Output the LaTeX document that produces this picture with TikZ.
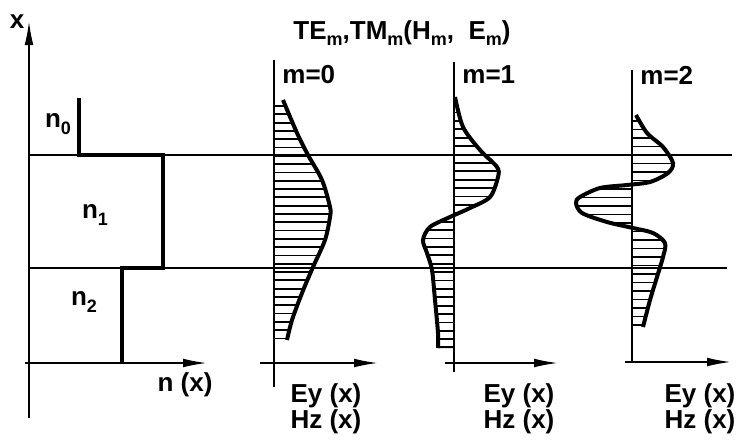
\documentclass[tikz,border=0pt]{standalone}
\usepackage{fontspec}
\setmainfont{Liberation Sans}
\usetikzlibrary{arrows.meta}
\tikzset{
  axisline/.style={line width=0.8pt},
  axisarrow/.style={line width=0.9pt, -{Latex[length=12pt,width=4.4pt]}},
  layerline/.style={line width=0.7pt},
  profile/.style={line width=1.9pt},
  modecurve/.style={line width=2pt},
  hatchline/.style={line width=0.9pt},
  lbl/.style={font=\bfseries\fontsize{13}{15}\selectfont, inner sep=0pt},
  % mode shapes, in pixel units of the figure
  modezero/.style={insert path={plot[smooth] coordinates {(283,100) (297,133) (308,155) (322,180) (330,207) (330,217) (325,240) (313,267) (302,293) (292,320) (287,340)}}},
  modeone/.style={insert path={plot[smooth] coordinates {(455,97) (463,127) (480,150) (497,167) (498,177) (490,197) (470,208) (450,217) (430,227) (423,240) (427,253) (432,270) (435,300) (438,333) (438,348)}}},
  modetwo/.style={insert path={plot[smooth] coordinates {(636,115) (647,133) (663,147) (673,163) (668,173) (650,182) (627,185) (600,188) (580,197) (576,203) (582,213) (607,222) (633,228) (653,233) (665,243) (663,257) (657,277) (650,300) (643,327)}}}
}
\newcommand{\lowsub}[1]{\raisebox{-0.45ex}{\fontsize{9}{10}\selectfont #1}}

\begin{document}
\begin{tikzpicture}[x=0.5pt, y=-0.5pt]
\useasboundingbox (0,0) rectangle (738,440);

% layer boundaries
\draw[layerline] (29,155) -- (732,155);
\draw[layerline] (29,268) -- (727,268);

% index profile
\draw[axisline] (29,418) -- (29,362);
\draw[axisarrow] (29,362) -- (29,21);
\draw[axisarrow] (25,363) -- (207,363);
\draw[profile] (79,98) -- (79,155) -- (163,155) -- (163,268) -- (122,268) -- (122,363);
\node[lbl] (xlab) at (17,22) {x};
\node[lbl] (nzero) at (58,124) {n\lowsub{0}};
\node[lbl] (none) at (95,215) {n\lowsub{1}};
\node[lbl] (ntwo) at (84,302) {n\lowsub{2}};
\node[lbl] (nlab) at (185,385) {n (x)};

\node[lbl] (title) at (402,33) {TE\lowsub{m},TM\lowsub{m}(H\lowsub{m},\ \ E\lowsub{m})};

% m = 0
\draw[axisline] (274,60) -- (274,387);
\draw[axisarrow] (260,363) -- (378,363);
\begin{scope}
  \clip[modezero] -- (274,340) -- (274,100) -- cycle;
  \foreach \yy in {106,114.3,...,340}
    \draw[hatchline] (270,\yy) -- (340,\yy);
\end{scope}
\draw[modecurve, modezero];
\node[lbl, anchor=west] (mzero) at (282,75) {m=0};
\node[lbl] (eyzero) at (326,396) {Ey (x)};
\node[lbl] (hzzero) at (326,422) {Hz (x)};

% m = 1
\draw[axisline] (454,62) -- (454,372);
\draw[axisarrow] (445,363) -- (558,363);
\begin{scope}
  \clip[modeone] -- (454,348) -- (454,97) -- cycle;
  \foreach \yy in {104,112.4,...,348}
    \draw[hatchline] (415,\yy) -- (505,\yy);
\end{scope}
\draw[hatchline] (438,347) -- (454,347);
\draw[modecurve, modeone];
\node[lbl, anchor=west] (mone) at (462,75) {m=1};
\node[lbl] (eyone) at (519,396) {Ey (x)};
\node[lbl] (hzone) at (519,422) {Hz (x)};

% m = 2
\draw[axisline] (632,70) -- (632,362);
\draw[axisarrow] (625,362) -- (731,362);
\begin{scope}
  \clip[modetwo] -- (632,327) -- (632,115) -- cycle;
  \foreach \yy in {121,129.5,...,327}
    \draw[hatchline] (570,\yy) -- (680,\yy);
\end{scope}
\draw[modecurve, modetwo];
\node[lbl, anchor=west] (mtwo) at (640,75) {m=2};
\node[lbl] (eytwo) at (700,396) {Ey (x)};
\node[lbl] (hztwo) at (700,422) {Hz (x)};
\end{tikzpicture}
\end{document}
